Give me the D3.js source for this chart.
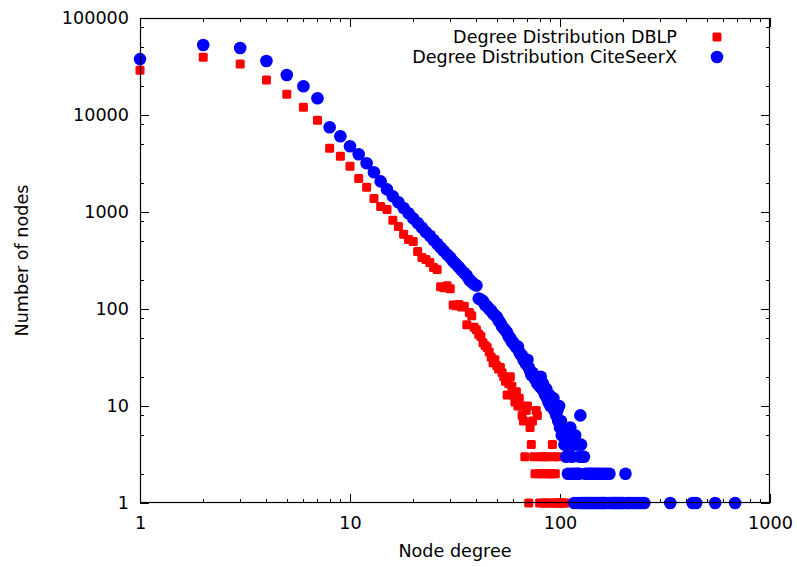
<!DOCTYPE html>
<html>
<head>
<meta charset="utf-8">
<script src="https://cdn.jsdelivr.net/npm/d3@7"></script>
<style>
  html, body { margin: 0; padding: 0; background: #fff; }
  text { font-family: "DejaVu Sans", sans-serif; fill: #000; }
</style>
</head>
<body>
<script>
// ---- data (degree, number of nodes) ----
const dblpDegree = [1,2,3,4,5,6,7,8,9,10,11,12,13,14,15,16,17,18,19,20,
  21,22,23,24,25,26,27,28,29,30,31,32,33,34,35,36,37,38,39,40,
  41,42,43,44,45,46,47,48,49,50,51,52,53,54,55,56,57,58,59,60,
  61,62,63,64,65,66,67,68,69,70,71,72,73,74,75,76,77,78,79,80,
  81,82,83,84,85,86,87,88,89,90,91,92,93,94,95,96,97,98,100,102,104,106];
const dblpCount = [29000,39500,33500,22900,16400,12000,8830,4540,3750,2960,2220,1800,1380,1140,1060,820,710,590,520,497,
  392,340,324,301,268,255,170,166,174,162,110,108,111,105,107,69,92,85,65,61,
  55,52,45,42,40,36,32,28,30,26,24,25,22,20,18,13,17,20,16,13,
  11,14,10,12,10,8,7,3,9,10,1,6,4,7,3,2,9,8,2,1,
  3,2,1,3,2,1,3,2,1,2,2,4,3,1,2,1,3,1,1,1,1,1];

const citeDegree = [1,2,3,4,5,6,7,8,9,10,11,12,13,14,15,16,17,18,19,20,
  21,22,23,24,25,26,27,28,29,30,31,32,33,34,35,36,37,38,39,40,
  41,42,43,44,45,46,47,48,49,50,51,52,53,54,55,56,57,58,59,60,
  61,62,63,64,65,66,67,68,69,70,71,72,73,74,75,76,77,78,79,80,
  81,82,83,84,85,86,87,88,89,90,91,92,93,94,95,96,97,98,99,100,
  101,102,103,104,105,106,107,108,109,110,111,112,113,114,115,116,117,118,119,120,
  121,122,123,124,125,126,127,128,129,130,131,132,133,135,136,138,139,140,142,143,
  145,146,148,150,151,153,155,157,158,160,162,163,165,167,170,172,175,178,181,184,
  187,190,193,196,200,205,208,212,218,224,230,238,245,252,335,428,445,548,682];
const citeCount = [37700,52600,49000,36000,25800,19800,14900,7480,6040,4760,3940,3180,2570,2070,1710,1450,1260,1100,970,860,
  770,690,620,570,515,470,430,395,365,340,310,290,270,250,235,220,200,190,180,175,
  128,125,120,110,106,100,96,90,86,83,76,72,66,63,60,57,52,50,46,45,
  42,40,41,36,34,33,30,29,27,30,25,23,21,22,20,19,20,17,18,16,
  20,15,17,14,13,15,12,11,13,10,12,11,12,9,10,8,9,7,10,6,
  7,5,6,6,4,5,3,4,2,5,4,6,2,3,4,2,1,5,2,4,
  2,1,2,3,8,4,1,3,1,3,1,2,1,2,1,2,1,2,1,2,
  1,2,1,2,1,2,1,2,1,1,2,1,1,2,1,2,1,1,1,1,
  1,1,1,1,1,2,1,1,1,1,1,1,1,1,1,1,1,1,1];

const xTickValues = [1, 10, 100, 1000];
const xTickLabels = ["1", "10", "100", "1000"];
const yTickValues = [1, 10, 100, 1000, 10000, 100000];
const yTickLabels = ["1", "10", "100", "1000", "10000", "100000"];
const xMinorSteps = [2,3,4,5,6,7,8,9];
const yMinorSteps = [2,5,8];
const seriesNames = ["Degree Distribution DBLP", "Degree Distribution CiteSeerX"];
const seriesColors = ["#ff0000", "#0000ff"];
const xTitle = "Node degree";
const yTitle = "Number of nodes";

// ---- layout ----
const W = 797, H = 567;
const L = 140, R = 770, T = 18, B = 503;
const FS = 17.6;

const svg = d3.select("body").append("svg")
  .attr("width", W).attr("height", H)
  .style("display", "block");

const x = d3.scaleLog().domain([1, 1000]).range([L, R]);
const y = d3.scaleLog().domain([1, 100000]).range([B, T]);

// minor tick values
const xMinor = [];
xTickValues.slice(0, -1).forEach(d => xMinorSteps.forEach(s => xMinor.push(d * s)));
const yMinor = [];
yTickValues.slice(0, -1).forEach(d => yMinorSteps.forEach(s => yMinor.push(d * s)));

const tickG = svg.append("g").attr("stroke", "#000").attr("stroke-width", 1).attr("shape-rendering", "crispEdges");
const MAJ = 9, MIN = 4;
xTickValues.forEach(v => {
  const px = Math.round(x(v)) + 0.5;
  tickG.append("line").attr("x1", px).attr("x2", px).attr("y1", B).attr("y2", B - MAJ);
  tickG.append("line").attr("x1", px).attr("x2", px).attr("y1", T).attr("y2", T + MAJ);
});
xMinor.forEach(v => {
  const px = Math.round(x(v)) + 0.5;
  tickG.append("line").attr("x1", px).attr("x2", px).attr("y1", B).attr("y2", B - MIN);
  tickG.append("line").attr("x1", px).attr("x2", px).attr("y1", T).attr("y2", T + MIN);
});
yTickValues.forEach(v => {
  const py = Math.round(y(v)) + 0.5;
  tickG.append("line").attr("x1", L).attr("x2", L + MAJ).attr("y1", py).attr("y2", py);
  tickG.append("line").attr("x1", R).attr("x2", R - MAJ).attr("y1", py).attr("y2", py);
});
yMinor.forEach(v => {
  const py = Math.round(y(v)) + 0.5;
  tickG.append("line").attr("x1", L).attr("x2", L + MIN).attr("y1", py).attr("y2", py);
  tickG.append("line").attr("x1", R).attr("x2", R - MIN).attr("y1", py).attr("y2", py);
});

// tick labels via axis generators (lines hidden, labels kept)
const xAxis = d3.axisBottom(x).tickValues(xTickValues).tickFormat((d, i) => xTickLabels[i]).tickSize(0).tickPadding(14);
const gx = svg.append("g").attr("transform", `translate(0,${B})`).call(xAxis);
gx.select(".domain").remove();
gx.selectAll("text").attr("font-size", FS).attr("font-family", "DejaVu Sans").attr("fill", "#000");

const yAxis = d3.axisLeft(y).tickValues(yTickValues).tickFormat((d, i) => yTickLabels[i]).tickSize(0).tickPadding(11);
const gy = svg.append("g").attr("transform", `translate(${L},0)`).call(yAxis);
gy.select(".domain").remove();
gy.selectAll("text").attr("font-size", FS).attr("font-family", "DejaVu Sans").attr("fill", "#000");

// axis titles
svg.append("text").attr("x", (L + R) / 2).attr("y", 557).attr("text-anchor", "middle")
  .attr("font-size", FS).text(xTitle);
svg.append("text").attr("transform", `translate(28,${(T + B) / 2}) rotate(-90)`).attr("text-anchor", "middle")
  .attr("font-size", FS).text(yTitle);

// data marks
const plot = svg.append("g");
const SQ = 9;
const dblp = dblpDegree.map((d, i) => ({ d, c: dblpCount[i] }));
const cite = citeDegree.map((d, i) => ({ d, c: citeCount[i] }));

plot.selectAll("rect.dblp").data(dblp).enter().append("rect")
  .attr("class", "dblp")
  .attr("x", p => x(p.d) - SQ / 2).attr("y", p => y(p.c) - SQ / 2)
  .attr("width", SQ).attr("height", SQ).attr("rx", 1.5)
  .attr("fill", seriesColors[0]);

plot.selectAll("circle.cite").data(cite).enter().append("circle")
  .attr("class", "cite")
  .attr("cx", p => x(p.d)).attr("cy", p => y(p.c)).attr("r", 6.3)
  .attr("fill", seriesColors[1]);

// frame
svg.append("rect").attr("x", L + 0.5).attr("y", T + 0.5).attr("width", R - L - 1).attr("height", B - T - 1)
  .attr("fill", "none").attr("stroke", "#000").attr("stroke-width", 1.2);

// legend
const legX = 677, markX = 717;
const legRows = [37, 57];
seriesNames.forEach((name, i) => {
  svg.append("text").attr("x", legX).attr("y", legRows[i]).attr("dy", "0.35em")
    .attr("text-anchor", "end").attr("font-size", FS).text(name);
});
svg.append("rect").attr("x", markX - SQ / 2).attr("y", legRows[0] - SQ / 2).attr("width", SQ).attr("height", SQ)
  .attr("rx", 1.5).attr("fill", seriesColors[0]);
svg.append("circle").attr("cx", markX).attr("cy", legRows[1]).attr("r", 6.3).attr("fill", seriesColors[1]);
</script>
</body>
</html>
